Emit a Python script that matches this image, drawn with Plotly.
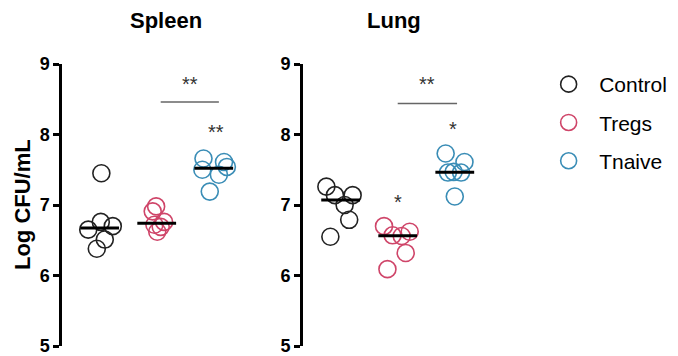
import numpy as np
import plotly.graph_objects as go
from plotly.subplots import make_subplots

groups = ["Control", "Tregs", "Tnaive"]
colors = ["#222222", "#cf4569", "#3a8db6"]

# Spleen values (log CFU/mL)
spleen_control = [7.45, 6.76, 6.70, 6.65, 6.51, 6.38]
spleen_tregs = [6.98, 6.91, 6.72, 6.76, 6.69, 6.62]
spleen_tnaive = [7.66, 7.61, 7.50, 7.54, 7.43, 7.19]
# Lung values
lung_control = [7.26, 7.14, 7.14, 7.00, 6.79, 6.55]
lung_tregs = [6.70, 6.57, 6.56, 6.62, 6.32, 6.09]
lung_tnaive = [7.73, 7.61, 7.46, 7.46, 7.12, 7.47]

# horizontal jitter within each category (category units)
spleen_jit = [
    [0.03, 0.02, 0.23, -0.20, 0.09, -0.05],
    [-0.01, -0.07, -0.04, 0.13, 0.07, 0.01],
    [-0.18, 0.18, -0.20, 0.23, 0.09, -0.07],
]
lung_jit = [
    [-0.25, -0.10, 0.21, 0.07, 0.15, -0.18],
    [-0.24, -0.09, 0.07, 0.21, 0.14, -0.18],
    [-0.16, 0.17, -0.12, 0.11, 0.00, -0.02],
]

panels = ["Spleen", "Lung"]
y_ticks = [5, 6, 7, 8, 9]

fig = make_subplots(rows=1, cols=2)
fig.update_layout(
    xaxis=dict(domain=[0, 0.3084]),
    xaxis2=dict(domain=[0.3912, 0.6997]),
)

data = [[spleen_control, spleen_tregs, spleen_tnaive],
        [lung_control, lung_tregs, lung_tnaive]]
jits = [spleen_jit, lung_jit]

for p in range(2):
    for g in range(3):
        vals = data[p][g]
        xs = [g + j for j in jits[p][g]]
        fig.add_trace(go.Scatter(
            x=xs, y=vals, mode="markers",
            marker=dict(symbol="circle-open", size=17, color=colors[g],
                        line=dict(width=1.6, color=colors[g])),
            name="\u2002" + groups[g], legendgroup=groups[g], showlegend=(p == 0),
            hoverinfo="y",
        ), row=1, col=p + 1)
        med = float(np.median(vals))
        fig.add_trace(go.Scatter(
            x=[g - 0.34, g + 0.34], y=[med, med], mode="lines",
            line=dict(color="black", width=3), showlegend=False, hoverinfo="skip",
        ), row=1, col=p + 1)

font_family = "Liberation Sans, Arial, sans-serif"
for p in range(2):
    fig.update_xaxes(range=[-0.66, 2.67], showline=False, showticklabels=False,
                     showgrid=False, zeroline=False, ticks="", row=1, col=p + 1)
    fig.update_yaxes(range=[5, 9], tickvals=y_ticks, showline=True, linecolor="black",
                     linewidth=2.5, ticks="outside", ticklen=6, tickwidth=2.5,
                     tickcolor="black", showgrid=False, zeroline=False,
                     ticklabeloverflow="allow",
                     tickfont=dict(family=font_family, size=18, color="black", weight="bold"),
                     row=1, col=p + 1)

# significance brackets
brackets = [("x", "y", 1.07, 2.09, 8.46), ("x2", "y2", 1.0, 2.04, 8.44)]
for xr, yr, x0, x1, yv in brackets:
    fig.add_shape(type="line", xref=xr, yref=yr, x0=x0, x1=x1, y0=yv, y1=yv,
                  line=dict(color="#666666", width=1.6))

stars = [
    ("x", "y", 1.58, 8.77, "**"),
    ("x", "y", 2.04, 8.09, "**"),
    ("x2", "y2", 1.52, 8.77, "**"),
    ("x2", "y2", 1.97, 8.13, "*"),
    ("x2", "y2", 1.0, 7.10, "*"),
]
for xr, yr, xv, yv, t in stars:
    fig.add_annotation(xref=xr, yref=yr, x=xv, y=yv, text=t, showarrow=False,
                       yanchor="middle", yshift=-4,
                       font=dict(family=font_family, size=20, color="#333333"))

# panel titles
for xr, t, xv in [("x domain", "Spleen", 0.35), ("x2 domain", "Lung", 0.326)]:
    fig.add_annotation(xref=xr, yref="paper", x=xv, xanchor="left",
                       y=1.0, yshift=44, yanchor="middle", text="<b>%s</b>" % t,
                       showarrow=False, font=dict(family=font_family, size=22, color="black"))

fig.add_annotation(xref="paper", yref="paper", x=-0.0649, y=0.5, xanchor="center",
                   yanchor="middle", textangle=-90, text="<b>Log CFU/mL</b>",
                   showarrow=False, font=dict(family=font_family, size=22, color="black"))

fig.update_layout(
    width=678, height=356,
    margin=dict(l=62, r=0, t=64, b=10),
    plot_bgcolor="white", paper_bgcolor="white",
    showlegend=True,
    legend=dict(x=0.79, y=1.0, xanchor="left", yanchor="top",
                font=dict(family=font_family, size=21, color="black"),
                tracegroupgap=8, itemsizing="trace", bgcolor="rgba(0,0,0,0)"),
)

fig.write_html("out.html")
